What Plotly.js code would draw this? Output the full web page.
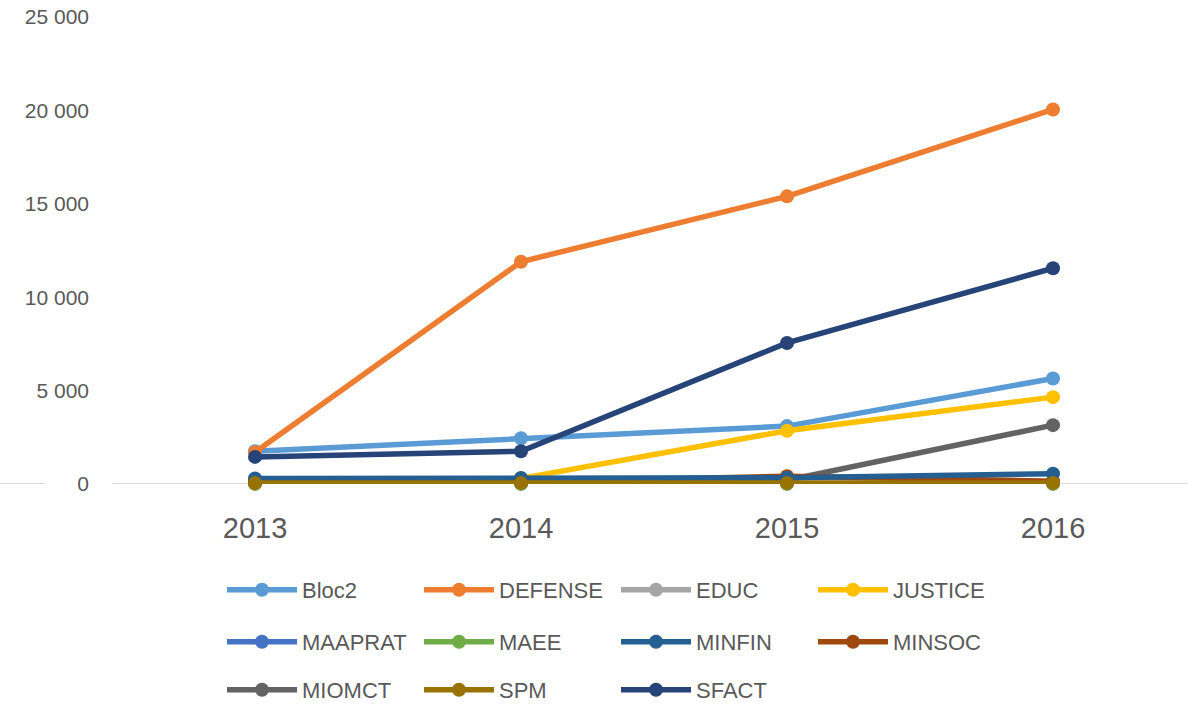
<!DOCTYPE html>
<html><head><meta charset="utf-8">
<script src="https://cdn.plot.ly/plotly-3.0.1.min.js"></script>
<style>html,body{margin:0;padding:0;background:#fff}#chart{width:1188px;height:706px}</style>
</head><body><div id="chart"></div>
<script>
const years = ["2013", "2014", "2015", "2016"];
const seriesNames = ["Bloc2","DEFENSE","EDUC","JUSTICE","MAAPRAT","MAEE","MINFIN","MINSOC","MIOMCT","SPM","SFACT"];
const Bloc2   = [1750, 2450, 3100, 5650];
const DEFENSE = [1700, 11900, 15400, 20050];
const EDUC    = [20, 20, 20, 20];
const JUSTICE = [null, 300, 2850, 4650];
const MAAPRAT = [30, 30, 30, 30];
const MAEE    = [10, 10, 10, 10];
const MINFIN  = [300, 320, 330, 550];
const MINSOC  = [100, 100, 420, 150];
const MIOMCT  = [150, 150, 200, 3150];
const SPM     = [50, 60, 60, 60];
const SFACT   = [1450, 1750, 7550, 11550];
const colors = ["#5B9BD5","#ED7D31","#A5A5A5","#FFC000","#4472C4","#70AD47","#255E91","#9E480E","#636363","#997300","#264478"];
const values = [Bloc2, DEFENSE, EDUC, JUSTICE, MAAPRAT, MAEE, MINFIN, MINSOC, MIOMCT, SPM, SFACT];
const legendOf = ["legend","legend","legend","legend","legend2","legend2","legend2","legend2","legend3","legend3","legend3"];

const font = "'Liberation Sans', Arial, sans-serif";
const traces = seriesNames.map((n, i) => ({
  type: "scatter", mode: "lines+markers", name: n, x: years, y: values[i],
  line: {color: colors[i], width: 5.5}, marker: {color: colors[i], size: 14},
  cliponaxis: false, legend: legendOf[i], legendrank: i + 1
}));
// draw order: bottom series last so they sit on top like in reference
const order = [0,1,2,3,4,5,8,7,6,9,10];
const data = order.map(i => traces[i]);

const L = 122, W = 1064;
const px = v => (v - L) / W;
const legendBase = {orientation: "h", xanchor: "left", yanchor: "middle", x: px(222),
  font: {family: font, size: 22, color: "#595959"}, entrywidth: 112, entrywidthmode: "pixels",
  itemwidth: 70, bgcolor: "rgba(0,0,0,0)", traceorder: "normal", borderwidth: 0};
const H = 467; // plot height 17..484
const py = v => (484 - v) / H;

const layout = {
  width: 1188, height: 706,
  margin: {l: L, r: 1188 - L - W, t: 17, b: 222, autoexpand: false},
  paper_bgcolor: "#fff", plot_bgcolor: "#fff",
  showlegend: true,
  xaxis: {type: "category", range: [-0.5, 3.5], showgrid: false, zeroline: false, showline: false, automargin: false,
    ticks: "", ticklabelstandoff: 24, tickfont: {family: font, size: 29, color: "#595959"}},
  yaxis: {range: [0, 25000], dtick: 5000, showgrid: false, zeroline: false, showline: false, automargin: false,
    ticks: "", ticklabelstandoff: 32, tickformat: ",d",
    tickfont: {family: font, size: 21, color: "#595959"}},
  separators: ". ",
  legend: Object.assign({}, legendBase, {y: py(590)}),
  legend2: Object.assign({}, legendBase, {y: py(642)}),
  legend3: Object.assign({}, legendBase, {y: py(690)}),
  shapes: [
    {type: "line", xref: "paper", yref: "y", x0: px(0), x1: px(45), y0: 0, y1: 0, line: {color: "#D9D9D9", width: 2}, layer: "below"},
    {type: "line", xref: "paper", yref: "y", x0: px(113), x1: px(1188), y0: 0, y1: 0, line: {color: "#D9D9D9", width: 2}, layer: "below"}
  ]
};
Plotly.newPlot("chart", data, layout, {displayModeBar: false, staticPlot: true});
</script></body></html>
